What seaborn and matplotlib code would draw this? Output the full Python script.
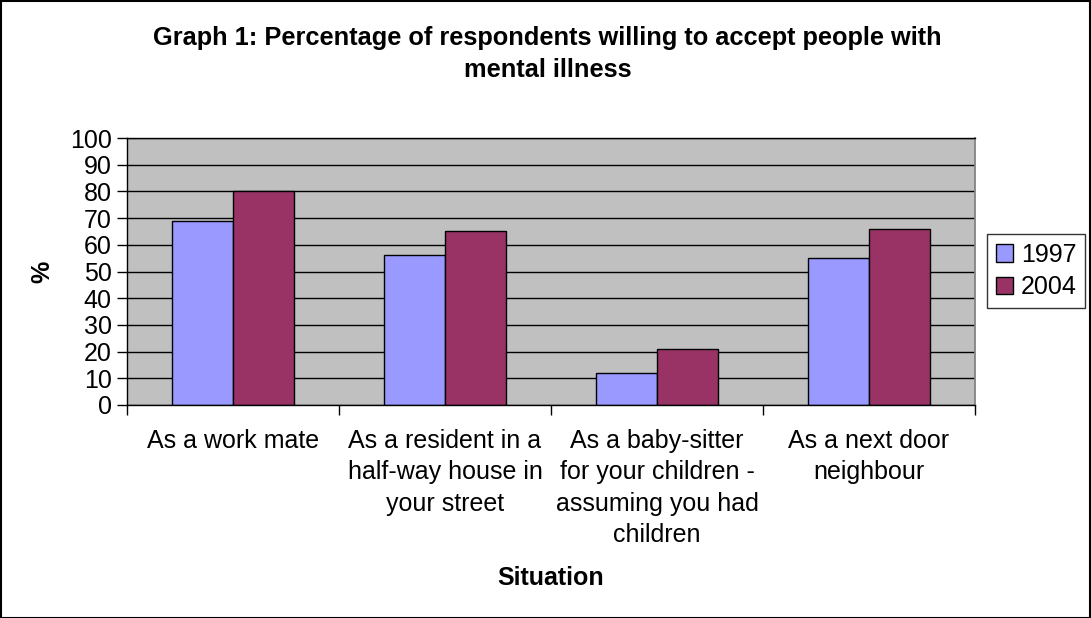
import matplotlib
matplotlib.use("Agg")
import matplotlib.pyplot as plt
import seaborn as sns
import pandas as pd
from matplotlib.ticker import FixedLocator, MultipleLocator
from matplotlib.patches import Rectangle

# Survey data: share of respondents willing to accept people with mental illness
situations = [
    "As a work mate",
    "As a resident in a\nhalf-way house in\nyour street",
    "As a baby-sitter\nfor your children -\nassuming you had\nchildren",
    "As a next door\nneighbour",
]
years = ["1997", "2004"]
pct_1997 = [69, 56, 12, 55]
pct_2004 = [80, 65, 21, 66]
year_colors = {"1997": "#9999FF", "2004": "#993366"}

df = pd.DataFrame({
    "Situation": situations * 2,
    "Year": [years[0]] * len(situations) + [years[1]] * len(situations),
    "Percent": pct_1997 + pct_2004,
})

sns.set_theme(style="white")
plt.rcParams["font.family"] = ["Liberation Sans", "DejaVu Sans"]
for key in ["text.color", "axes.labelcolor", "xtick.color", "ytick.color"]:
    plt.rcParams[key] = "black"

W, H = 1091, 618
fig = plt.figure(figsize=(W / 100, H / 100), dpi=100)
ax = fig.add_axes([127 / W, 1 - 405 / H, (975 - 127) / W, (405 - 138) / H])

sns.barplot(
    data=df, x="Situation", y="Percent", hue="Year", order=situations,
    hue_order=years, palette=year_colors, width=0.571, saturation=1,
    edgecolor="black", linewidth=1, ax=ax,
)

ax.set_facecolor("#C0C0C0")
ax.set_xlim(-0.5, len(situations) - 0.5)
ax.set_ylim(0, 100)
ax.yaxis.set_major_locator(MultipleLocator(10))
ax.set_axisbelow(True)
ax.yaxis.grid(True, color="black", linewidth=1)
ax.xaxis.grid(False)

for side in ["left", "bottom", "top"]:
    ax.spines[side].set_color("black")
    ax.spines[side].set_linewidth(1)
ax.spines["right"].set_color("#808080")

ax.tick_params(axis="y", which="major", length=7, width=1, color="black",
               labelsize=18, pad=4, left=True)
ax.xaxis.set_minor_locator(FixedLocator([i - 0.5 for i in range(len(situations) + 1)]))
ax.tick_params(axis="x", which="major", length=0, labelsize=18, pad=17)
ax.tick_params(axis="x", which="minor", length=7, width=1, color="black", bottom=True)
for lbl in ax.get_xticklabels():
    lbl.set_linespacing(1.40)
    lbl.set_verticalalignment("top")

ax.set_xlabel("Situation", fontsize=18, fontweight="bold", labelpad=13.7)
ax.set_ylabel("%", fontsize=18, fontweight="bold", labelpad=11.5)

fig.text(0.502, 1 - 38 / H,
         "Graph 1: Percentage of respondents willing to accept people with",
         ha="center", va="center", fontsize=18.3, fontweight="bold")
fig.text(0.502, 1 - 70 / H, "mental illness",
         ha="center", va="center", fontsize=18.3, fontweight="bold")

handles, labels = ax.get_legend_handles_labels()
leg = ax.legend(
    handles, labels, loc="center left",
    bbox_to_anchor=(987 / W, 1 - 271 / H), bbox_transform=fig.transFigure,
    frameon=True, fancybox=False, edgecolor="black", fontsize=18,
    handlelength=0.7, handleheight=0.7, handletextpad=0.3,
    borderpad=0.35, labelspacing=0.35, borderaxespad=0,
)
leg.get_frame().set_linewidth(1)

fig.patches.append(Rectangle((0.5 / W, 0.5 / H), 1 - 1.5 / W, 1 - 1.5 / H,
                             transform=fig.transFigure, fill=False,
                             edgecolor="black", linewidth=1.5))

fig.savefig("out.png", dpi=100, facecolor="white")
